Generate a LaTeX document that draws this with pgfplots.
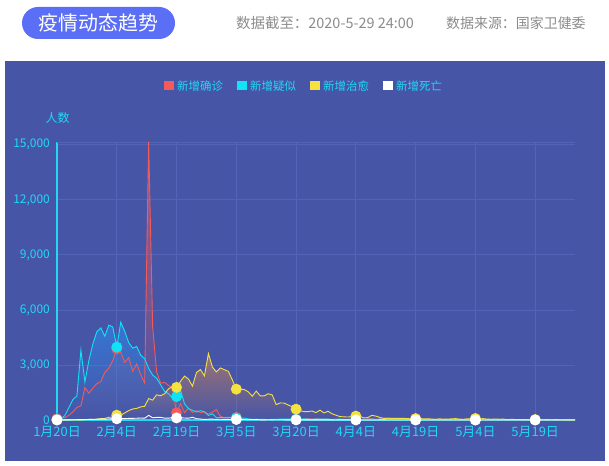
\documentclass[border=0pt]{standalone}
\usepackage{fontspec}
\setmainfont{Noto Sans CJK SC}
\usepackage{pgfplots}
\pgfplotsset{compat=1.18}
\usepackage{pgfplotstable}
\usetikzlibrary{fadings}

\definecolor{panel}{HTML}{4755A7}
\definecolor{gridc}{HTML}{5264B8}
\definecolor{btn}{HTML}{5B6EF6}
\definecolor{grayt}{HTML}{8C8C8C}
\definecolor{tickc}{HTML}{22D8F2}
\definecolor{qz}{HTML}{F35A5A}
\definecolor{ys}{HTML}{0FE3F5}
\definecolor{zy}{HTML}{F5E23E}
\definecolor{sw}{HTML}{FFFFFF}
\definecolor{zyfill}{HTML}{D98850}
\definecolor{ysfill}{HTML}{2C8EF0}

\tikzfading[name=areafade, top color=transparent!40, bottom color=transparent!100]

% d = days since 1月20日; qz 新增确诊, ys 新增疑似, zy 新增治愈, sw 新增死亡
\pgfplotstableread{
d qz ys zy sw
0 77 27 0 3
1 149 26 3 3
2 131 257 4 8
3 259 680 6 8
4 444 1118 4 16
5 688 1309 11 15
6 769 3806 2 24
7 1771 2077 9 26
8 1459 3248 43 26
9 1737 4148 21 38
10 1981 4812 47 43
11 2099 5019 72 46
12 2590 4562 85 45
13 2829 5173 147 57
14 3235 5072 157 64
15 3887 3971 262 65
16 3694 5328 261 73
17 3143 4833 387 73
18 3399 4214 510 86
19 2656 3916 600 89
20 3062 4008 632 97
21 2478 3536 716 108
22 2015 3342 744 97
23 15152 2807 1171 254
24 5090 2450 1081 121
25 2641 2277 1373 143
26 2009 1918 1323 142
27 2048 1563 1425 105
28 1886 1432 1701 98
29 1749 1185 1824 136
30 394 1277 1779 114
31 889 1614 2109 118
32 397 882 2393 109
33 648 620 2231 97
34 409 530 1846 150
35 508 439 2589 71
36 406 508 2750 52
37 433 452 2406 29
38 327 248 3622 44
39 427 335 2885 47
40 573 132 2623 35
41 202 141 2837 42
42 125 129 2742 31
43 119 143 2652 38
44 139 143 2189 31
45 143 102 1681 30
46 99 99 1678 28
47 44 102 1661 27
48 40 60 1535 22
49 19 36 1297 17
50 24 31 1578 22
51 15 33 1318 11
52 8 33 1318 7
53 11 17 1430 13
54 20 39 1370 10
55 16 41 838 14
56 21 45 930 13
57 13 45 922 11
58 34 45 819 8
59 39 73 730 3
60 41 39 590 7
61 46 47 504 6
62 39 64 459 9
63 78 47 456 7
64 47 35 491 4
65 67 54 401 6
66 55 55 537 5
67 54 57 383 3
68 45 53 477 5
69 31 19 342 4
70 48 37 262 1
71 36 49 186 7
72 35 25 170 6
73 31 29 163 4
74 19 35 184 4
75 30 29 209 3
76 39 35 203 1
77 32 16 112 2
78 62 31 131 0
79 63 48 253 2
80 42 26 214 1
81 46 45 143 3
82 99 41 88 3
83 108 55 93 2
84 89 51 85 0
85 46 37 87 0
86 26 24 88 1
87 27 15 92 0
88 26 27 77 0
89 27 21 61 0
90 12 6 78 0
91 11 10 91 0
92 30 10 58 0
93 10 8 71 0
94 6 7 52 0
95 12 6 39 0
96 11 9 65 0
97 3 2 42 0
98 6 7 54 0
99 22 4 59 0
100 4 3 76 0
101 12 6 48 0
102 1 2 38 0
103 2 3 65 0
104 3 2 63 0
105 1 2 81 0
106 1 3 66 0
107 2 2 73 0
108 4 2 47 0
109 1 2 42 0
110 14 1 57 0
111 17 1 42 0
112 1 2 48 0
113 7 2 24 0
114 3 1 34 0
115 4 2 28 0
116 5 3 27 0
117 8 2 21 0
118 7 4 16 0
119 6 2 17 0
120 6 2 22 0
121 5 4 18 0
122 4 2 15 0
123 2 1 18 0
124 3 1 13 0
125 11 1 18 0
126 7 1 16 0
127 1 0 12 0
128 1 1 5 0
129 2 1 10 0
130 4 1 4 0
}\data

\begin{document}
\begin{tikzpicture}
\begin{scope}[x=1bp,y=1bp]
  \useasboundingbox (0,0) rectangle (609,466);
  \fill[white] (0,0) rectangle (609,466);
  \fill[panel] (5,5) rectangle (605,405);
  % header
  \fill[btn, rounded corners=16bp] (22,427) rectangle (175,459);
  \node[white, font=\fontsize{20}{24}\selectfont] at (98.5,443) {疫情动态趋势};
  \node[grayt, anchor=west, inner sep=0pt, font=\fontsize{14.5}{17}\selectfont] at (236,443) {数据截至：2020-5-29 24:00};
  \node[grayt, anchor=west, inner sep=0pt, font=\fontsize{14}{17}\selectfont] at (446,443) {数据来源：国家卫健委};
  % legend
  \foreach \c/\xx/\t in {qz/164/新增确诊, ys/237/新增疑似, zy/310/新增治愈, sw/383/新增死亡}{
    \fill[\c] (\xx,375.5) rectangle ++(9.5,9.5);
    \node[tickc, anchor=west, inner sep=0pt, font=\fontsize{11.5}{13}\selectfont] at (\xx+13,380.2) {\t};
  }
  \node[tickc, font=\fontsize{12}{14}\selectfont] at (57.5,348) {人数};
\end{scope}

\begin{axis}[
  at={(57bp,46bp)}, anchor=south west,
  scale only axis, width=518bp, height=278bp,
  xmin=0, xmax=130, ymin=0, ymax=15152,
  clip=false,
  axis x line*=bottom, axis y line*=left,
  axis line style={-, tickc, line width=1.2bp},
  xtick={0,15,...,120},
  xticklabels={1月20日,2月4日,2月19日,3月5日,3月20日,4月4日,4月19日,5月4日,5月19日},
  ytick={0,3000,...,15000},
  extra y ticks={15152}, extra y tick labels={},
  extra y tick style={grid=major},
  scaled y ticks=false,
  /pgf/number format/assume math mode=true,
  /pgf/number format/1000 sep={,},
  major tick length=0pt,
  grid=major,
  major grid style={gridc, line width=0.8bp},
  xticklabel style={tickc, anchor=north, inner sep=0pt, yshift=-6bp, font=\fontsize{13}{15}\selectfont},
  yticklabel style={tickc, anchor=east, inner sep=0pt, xshift=-7bp, font=\fontsize{12}{14}\selectfont},
]
  \addplot[draw=none, fill=qz, path fading=areafade] table[x=d, y=qz] {\data} \closedcycle;
  \addplot[draw=none, fill=ysfill, path fading=areafade] table[x=d, y=ys] {\data} \closedcycle;
  \addplot[draw=none, fill=zyfill, path fading=areafade] table[x=d, y=zy] {\data} \closedcycle;

  \addplot[qz, line width=0.9bp, mark=*, mark repeat=15, mark size=5bp, mark options={draw=none, fill=qz}] table[x=d, y=qz] {\data};
  \addplot[ys, line width=0.9bp, mark=*, mark repeat=15, mark size=5bp, mark options={draw=none, fill=ys}] table[x=d, y=ys] {\data};
  \addplot[zy, line width=0.9bp, mark=*, mark repeat=15, mark size=5bp, mark options={draw=none, fill=zy}] table[x=d, y=zy] {\data};
  \addplot[sw, line width=0.9bp, mark=*, mark repeat=15, mark size=5bp, mark options={draw=none, fill=sw}] table[x=d, y=sw] {\data};
\end{axis}
\end{tikzpicture}
\end{document}
